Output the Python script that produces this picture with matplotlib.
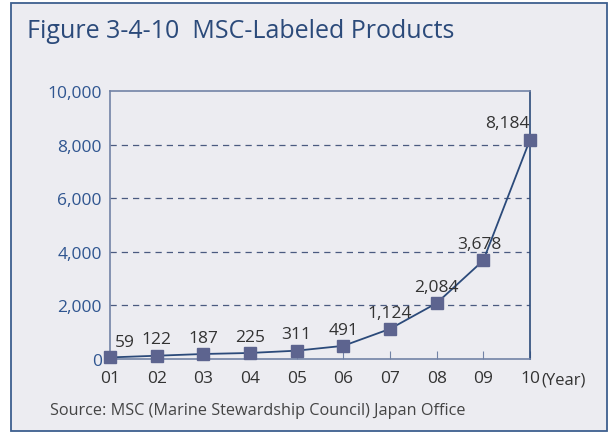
import matplotlib.pyplot as plt
from matplotlib.patches import Rectangle

years = ['01', '02', '03', '04', '05', '06', '07', '08', '09', '10']
products = [59, 122, 187, 225, 311, 491, 1124, 2084, 3678, 8184]
labels = ['59', '122', '187', '225', '311', '491', '1,124', '2,084', '3,678', '8,184']
yticks = [0, 2000, 4000, 6000, 8000, 10000]

bg = '#ececf1'
navy = '#2b4a7a'
spine_c = '#7283a6'

plt.rcParams['font.family'] = ['Open Sans', 'DejaVu Sans']

fig = plt.figure(figsize=(6.09, 4.35), dpi=100)
fig.patch.set_facecolor('white')
fig.patches.append(Rectangle((11 / 609, 3 / 435), 596 / 609, 428 / 435, transform=fig.transFigure,
                             facecolor=bg, edgecolor='#3d5f8f', linewidth=1.3, zorder=-5))

fig.text(27 / 609, 1 - 31 / 435, 'Figure 3-4-10  MSC-Labeled Products', fontsize=18,
         color=navy, va='center', ha='left')
fig.text(50 / 609, 1 - 411 / 435, 'Source: MSC (Marine Stewardship Council) Japan Office',
         fontsize=11.7, color='#444444', va='center', ha='left')

ax = fig.add_axes([110 / 609, 75 / 435, 420 / 609, 268 / 435])
ax.set_facecolor('none')
x = list(range(len(years)))
ax.plot(x, products, color=navy, linewidth=1.3, marker='s', markersize=8,
        markerfacecolor='#5d648f', markeredgecolor='#5d648f', zorder=3, clip_on=False)

offsets = [(11, 5), (0, 6), (0, 6), (0, 6), (0, 6), (0, 6), (0, 6), (0, 6), (-3, 6), (-16, 6)]
for i, (v, lab) in enumerate(zip(products, labels)):
    ax.annotate(lab, (i, v), textcoords='offset points', xytext=offsets[i], ha='center',
                va='bottom', fontsize=12.5, color='#333333')

ax.set_xlim(0, 9)
ax.set_ylim(0, 10000)
ax.set_xticks(x)
ax.set_xticklabels(years)
ax.set_yticks(yticks)
ax.set_yticklabels([f'{v:,}' for v in yticks])
for g in yticks[1:-1]:
    ax.axhline(g, color='#4a5a80', linewidth=0.9, linestyle=(0, (5, 4)), zorder=1)

for s in ax.spines.values():
    s.set_color(spine_c)
    s.set_linewidth(1.2)
ax.spines['right'].set_color(navy)

ax.tick_params(axis='x', direction='in', length=6, color=spine_c, labelsize=12.5,
               labelcolor='#333333', pad=8)
ax.tick_params(axis='y', length=0, labelsize=12.5, labelcolor='#2f5590', pad=6)
ax.text(1 + 11 / 420, -0.075, '(Year)', transform=ax.transAxes, fontsize=12, color='#333333',
        ha='left', va='center')

fig.savefig('out.png', dpi=100, facecolor=fig.get_facecolor())
